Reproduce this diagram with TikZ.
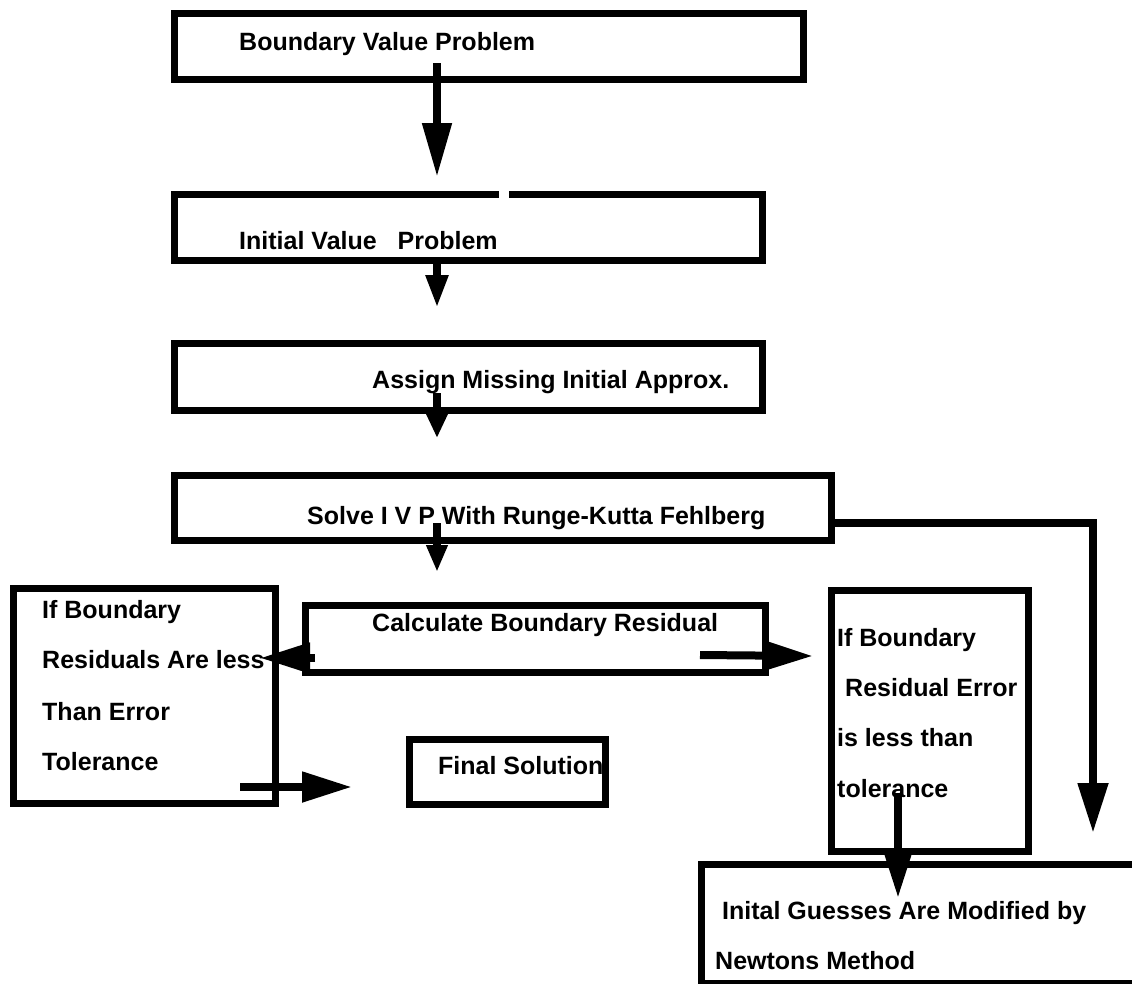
\documentclass[tikz,border=0pt]{standalone}
\usepackage{fontspec}
\setmainfont{Liberation Sans}
\usetikzlibrary{arrows.meta,calc}
\begin{document}
\begin{tikzpicture}[x=1pt,y=-1pt,
  flowbox/.style={draw=black, line width=7pt, inner sep=0pt, outer sep=0pt, rectangle, fill=none},
  lbl/.style={anchor=base west, inner sep=0pt, font=\bfseries\fontsize{25}{30}\selectfont},
  conn/.style={draw=black, line width=8pt},
  tipA/.style={-{Triangle[length=54pt,width=28pt]}},
  tipB/.style={-{Triangle[length=33pt,width=21pt]}},
  tipC/.style={-{Triangle[length=24pt,width=20pt]}},
  tipD/.style={-{Triangle[length=27pt,width=20pt]}},
  tipH/.style={-{Triangle[length=50pt,width=29pt]}}]
\useasboundingbox (0,0) rectangle (1132,983);
% boxes
\node[flowbox, minimum width=629pt, minimum height=66pt] (b1) at (488.5,46) {};
\node[flowbox, minimum width=588pt, minimum height=66pt] (b2) at (468,227) {};
\node[flowbox, minimum width=588pt, minimum height=67pt] (b3) at (468,376.5) {};
\node[flowbox, minimum width=657pt, minimum height=65pt] (b4) at (502.5,507.5) {};
\node[flowbox, minimum width=460pt, minimum height=67pt] (calc) at (535,638.5) {};
\node[flowbox, minimum width=262pt, minimum height=215pt] (lft) at (144,695.5) {};
\node[flowbox, minimum width=196pt, minimum height=65pt] (fin) at (507,771.5) {};
\node[flowbox, minimum width=197pt, minimum height=261pt] (rgt) at (929.5,720.5) {};
\node[flowbox, minimum width=459pt, minimum height=119pt] (bot) at (930.5,923.5) {};
% gap in top border of box 2
\fill[white] ($(b2.north west)+(325,-5)$) rectangle +(10,10);
% texts
\node[lbl] (t1) at (239,50) {Boundary Value Problem};
\node[lbl] (t2) at (239,249) {Initial Value \ \ Problem};
\node[lbl] (t3) at (372,388) {Assign Missing Initial Approx.};
\node[lbl] (t4) at (307,524) {Solve I V P With Runge-Kutta Fehlberg};
\node[lbl] (t5) at (372,631) {Calculate Boundary Residual};
\node[lbl] (l1) at (42,618) {If Boundary};
\node[lbl] (l2) at (42,668) {Residuals Are less};
\node[lbl] (l3) at (42,720) {Than Error};
\node[lbl] (l4) at (42,770) {Tolerance};
\node[lbl] (t6) at (438,774) {Final Solution};
\node[lbl] (r1) at (837,646) {If Boundary};
\node[lbl] (r2) at (845,696) {Residual Error};
\node[lbl] (r3) at (837,746) {is less than};
\node[lbl] (r4) at (837,797) {tolerance};
\node[lbl] (n1) at (722,919) {Inital Guesses Are Modified by};
\node[lbl] (n2) at (715,969) {Newtons Method};
% connectors
\draw[conn, tipA] ($(b1.south west)+(263,-16)$) -- ($(b2.north west)+(263,-17)$);
\draw[conn, tipB] ($(b2.south west)+(263,0)$) -- ($(b3.north west)+(263,-35)$);
\draw[conn, tipC] ($(b3.south west)+(263,-17)$) -- ($(b4.north west)+(263,-37)$);
\draw[conn, tipD] ($(b4.south west)+(263,-17)$) -- ($(calc.north west)+(132,-33)$);
\draw[conn, tipH] ($(b4.north east)+(0,48)$) -| ($(bot.north west)+(392,-31)$);
\draw[conn, tipH] ($(calc.south west)+(10,-14)$) -- ($(lft.north east)+(-15,70)$);
\draw[conn, tipH] ($(lft.south east)+(-35,-16)$) -- ($(fin.west)+(-57,15.5)$);
\draw[conn, tipH] ($(calc.south east)+(-65,-17)$) -- ($(rgt.north west)+(-18,66)$);
\draw[conn, tipH] ($(rgt.south west)+(67,-58)$) -- ($(bot.north west)+(197,34)$);
\end{tikzpicture}
\end{document}
